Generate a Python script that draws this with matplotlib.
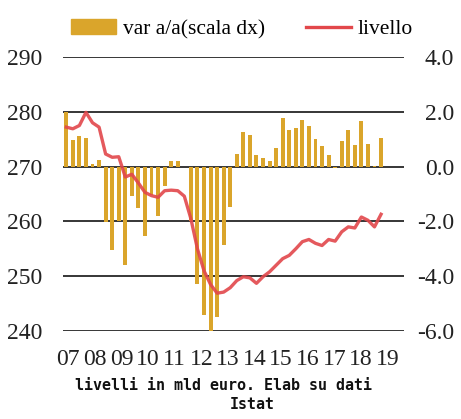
import numpy as np
import matplotlib
matplotlib.use("Agg")
import matplotlib.pyplot as plt
from matplotlib.patches import Patch
from matplotlib.lines import Line2D

# quarterly data 2007Q1 - 2019Q1
years = ["07", "08", "09", "10", "11", "12", "13", "14", "15", "16", "17", "18", "19"]

livello = [277.2, 276.9, 277.5, 279.9, 278.0, 277.2, 272.3, 271.7, 271.8, 268.1,
           268.6, 267.0, 265.3, 264.7, 264.4, 265.6, 265.7, 265.6, 264.6, 260.5,
           255.0, 251.0, 248.5, 246.9, 247.1, 247.9, 249.2, 249.9, 249.7, 248.7,
           249.9, 250.8, 252.0, 253.2, 253.8, 255.0, 256.3, 256.7, 256.0, 255.6,
           256.7, 256.4, 258.1, 259.0, 258.8, 260.8, 260.2, 259.0, 261.3]

var_aa = [2.0, 0.97, 1.13, 1.05, 0.1, 0.25, -2.03, -3.03, -2.0, -3.58,
          -1.09, -1.52, -2.55, -1.05, -1.8, -0.71, 0.2, 0.22, 0.0, -2.0,
          -4.27, -5.42, -6.0, -5.5, -2.87, -1.48, 0.47, 1.28, 1.15, 0.44,
          0.3, 0.22, 0.67, 1.77, 1.35, 1.41, 1.71, 1.47, 1.01, 0.74,
          0.43, -0.05, 0.95, 1.33, 0.79, 1.67, 0.83, 0.03, 1.03]

x = np.arange(len(livello))

serif = "Liberation Serif"
bar_col = "#DAA52B"
line_col = "#E2474B"

fig = plt.figure(figsize=(4.61, 4.19), dpi=100)
ax = fig.add_axes([63/461, 1-331/419, 341/461, 274/419])
ax2 = ax.twinx()

# left axis holds gridlines, right axis the bars; line drawn on top
ax.set_ylim(240, 290)
ax.set_yticks(range(240, 291, 10))
ax.set_xlim(-0.5, 51.5)
for v in range(240, 291, 10):
    ax.axhline(v, color="black", lw=1.1, zorder=0)

ax2.set_ylim(-6, 4)
ax2.set_yticks([-6, -4, -2, 0, 2, 4])
ax2.set_yticklabels(["-6.0", "-4.0", "-2.0", "0.0", "2.0", "4.0"])
ax2.bar(x, var_aa, width=0.6, color=bar_col, zorder=2)

ax2.plot(x, np.array(livello) * 0.2 - 54, color=line_col, lw=2.4, alpha=0.9, zorder=3)

# year labels
ax.set_xticks(np.linspace(0.3, 49.0, len(years)))
ax.set_xticklabels(years)

for a in (ax, ax2):
    for s in a.spines.values():
        s.set_visible(False)
    a.tick_params(length=0, labelsize=17)
    for lab in a.get_xticklabels() + a.get_yticklabels():
        lab.set_fontfamily(serif)
        lab.set_color("#222222")
ax.tick_params(axis="y", pad=15)
ax2.tick_params(axis="y", pad=36)
for lab in ax2.get_yticklabels():
    lab.set_horizontalalignment("right")
ax.tick_params(axis="x", pad=13)

handles = [Patch(color=bar_col), Line2D([], [], color=line_col, lw=2.4)]
fig.legend(handles, ["var a/a(scala dx)", "livello"], loc="upper center",
           bbox_to_anchor=(0.525, 1.0), ncol=2, frameon=False,
           prop={"family": serif, "size": 15.5}, handlelength=2.1,
           handletextpad=0.3, columnspacing=1.9)

fig.text(223/461, 1-385/419, "livelli in mld euro. Elab su dati", ha="center", va="center",
         family="DejaVu Sans Mono", fontsize=10.8, fontweight="bold", color="#111111")
fig.text(252/461, 1-404/419, "Istat", ha="center", va="center",
         family="DejaVu Sans Mono", fontsize=10.8, fontweight="bold", color="#111111")

fig.savefig("out.png", dpi=100)
